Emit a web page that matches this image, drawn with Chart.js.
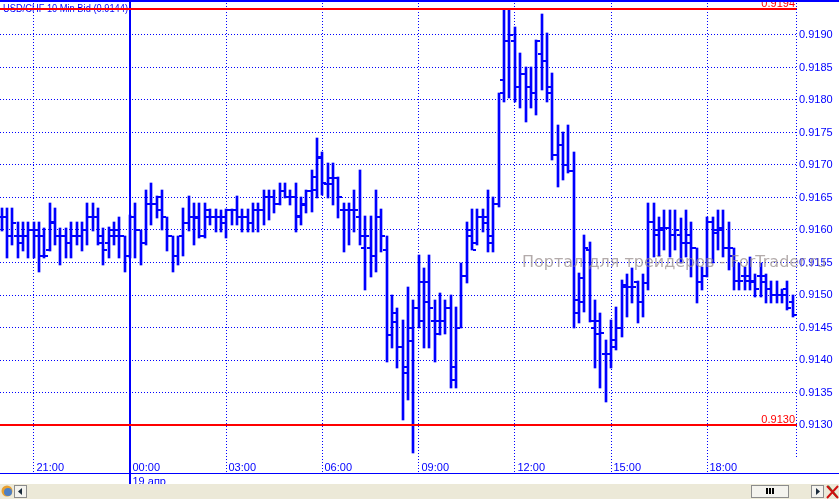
<!DOCTYPE html>
<html><head><meta charset="utf-8">
<script src="https://cdn.jsdelivr.net/npm/chart.js@4"></script>
<style>html,body{margin:0;padding:0;background:#fff;overflow:hidden}#wrap{width:839px;height:499px;position:relative}</style>
</head><body><div id="wrap"><canvas id="c" width="839" height="499"></canvas></div>
<script>
// ---- data (USD/CHF, 10-minute bars, first bar 20:00) ----
const chartTitle = 'USD/CHF 10 Min Bid (0.9144)';
const dateLabel = '19 апр';
const watermark = 'Портал для трейдеров - ForTrader.ru';
const open = [
0.9162,0.9162,0.9159,0.9159,0.9159,0.9159,0.9160,0.9160,0.9159,0.9157,
0.9161,0.9159,0.9159,0.9158,0.9159,0.9159,0.9160,0.9162,0.9162,0.9158,
0.9158,0.9159,0.9160,0.9159,0.9156,0.9162,0.9160,0.9158,0.9164,0.9164,
0.9165,0.9162,0.9159,0.9156,0.9159,0.9161,0.9162,0.9162,0.9159,0.9162,
0.9162,0.9162,0.9162,0.9163,0.9163,0.9162,0.9162,0.9161,0.9163,0.9163,
0.9165,0.9165,0.9164,0.9166,0.9165,0.9165,0.9162,0.9164,0.9166,0.91662,
0.9171,0.9167,0.9167,0.9168,0.9163,0.9163,0.9163,0.9162,0.91572,0.91572,
0.9156,0.9162,0.9157,0.91438,0.91472,0.9142,0.9139,0.9145,0.9148,0.9146,
0.9152,0.9146,0.9144,0.9146,0.9148,0.9139,0.9145,0.9153,0.9160,0.9158,
0.9162,0.9162,0.9159,0.9164,0.9183,0.9189,0.9189,0.9182,0.9184,0.9182,
0.9181,0.9187,0.9186,0.9182,0.91715,0.9173,0.9170,0.9169,0.91492,0.9149,
0.9157,0.9145,0.9146,0.9141,0.9141,0.9142,0.9145,0.91512,0.91512,0.9152,
0.9149,0.91518,0.91612,0.9160,0.91603,0.91603,0.91592,0.91592,0.9158,0.9158,
0.91572,0.9152,0.9153,0.91612,0.9160,0.9160,0.91572,0.91572,0.91522,0.9153,
0.91522,0.9152,0.9153,0.9152,0.9151,0.9150,0.9150,0.9150,0.9149];
const high = [
0.91634,0.91634,0.91634,0.91613,0.91613,0.91613,0.91613,0.91613,0.91603,0.91641,
0.91634,0.91603,0.91603,0.91613,0.91613,0.91613,0.91641,0.91641,0.91634,0.91603,
0.91605,0.91613,0.9162,0.9159,0.91623,0.91641,0.9160,0.91662,0.91672,0.91652,
0.91662,0.9162,0.9159,0.9159,0.91634,0.91652,0.91642,0.91642,0.91642,0.91632,
0.91632,0.9163,0.91632,0.91632,0.91652,0.91632,0.91632,0.91642,0.91642,0.91662,
0.91662,0.91662,0.91672,0.91672,0.91662,0.91672,0.9165,0.91662,0.91692,0.91742,
0.9172,0.91703,0.91703,0.91682,0.91642,0.91642,0.91662,0.91692,0.91622,0.91622,
0.91662,0.91632,0.9159,0.9150,0.9148,0.91462,0.91512,0.91492,0.91562,0.91542,
0.91562,0.91492,0.91503,0.91492,0.9150,0.91482,0.9155,0.91612,0.91632,0.91632,
0.91632,0.91662,0.91651,0.91811,0.91938,0.91938,0.91912,0.91872,0.91851,0.91851,
0.91892,0.91932,0.91903,0.91842,0.91762,0.91751,0.91762,0.9172,0.91534,0.91592,
0.91582,0.91492,0.91472,0.91431,0.91462,0.91482,0.91523,0.91532,0.91542,0.91522,
0.91532,0.91642,0.91642,0.9162,0.9163,0.9163,0.9163,0.91618,0.9163,0.91612,
0.91572,0.91543,0.9162,0.9162,0.9163,0.9163,0.91612,0.91572,0.9155,0.91543,
0.91558,0.91532,0.9155,0.91532,0.91522,0.91522,0.9151,0.91522,0.9150];
const low = [
0.91598,0.91557,0.91577,0.91557,0.91567,0.91557,0.91557,0.91536,0.91557,0.91567,
0.91577,0.91546,0.91557,0.91557,0.91577,0.91567,0.91577,0.91598,0.91577,0.91546,
0.91557,0.91577,0.91557,0.91536,0.91557,0.91557,0.91546,0.91577,0.91608,0.91618,
0.9160,0.91567,0.91536,0.91546,0.9156,0.91598,0.91577,0.91588,0.91588,0.91608,
0.91597,0.91597,0.91588,0.91608,0.91608,0.91597,0.91597,0.91597,0.91597,0.91608,
0.91615,0.91626,0.91639,0.91649,0.91639,0.91597,0.91608,0.91626,0.91628,0.91649,
0.91654,0.91649,0.91638,0.91618,0.91566,0.91577,0.91597,0.91577,0.91508,0.91528,
0.91535,0.91566,0.91397,0.91418,0.91388,0.91308,0.91338,0.91257,0.91449,0.91418,
0.91418,0.91397,0.91438,0.9144,0.91357,0.91357,0.91449,0.91518,0.91569,0.91577,
0.91597,0.91566,0.91566,0.91635,0.91797,0.91803,0.91797,0.91788,0.91766,0.91788,
0.91777,0.91815,0.91797,0.91708,0.91666,0.91677,0.91688,0.91449,0.91457,0.91474,
0.91458,0.91388,0.91357,0.91335,0.91388,0.91415,0.91435,0.91466,0.91488,0.91457,
0.91466,0.91508,0.91558,0.9156,0.9157,0.91558,0.9157,0.91549,0.91558,0.91528,
0.91488,0.91508,0.91528,0.91549,0.9157,0.91558,0.91538,0.91508,0.91508,0.91508,
0.91508,0.91497,0.91497,0.91488,0.91488,0.91488,0.91488,0.91477,0.91466];
const close = [
0.9162,0.9159,0.9161,0.9158,0.9159,0.9160,0.9159,0.9156,0.9156,0.91613,
0.9159,0.9159,0.9158,0.9159,0.9159,0.9160,0.9162,0.9162,0.9159,0.9157,
0.9160,0.9159,0.9159,0.9156,0.9162,0.9160,0.9158,0.9164,0.9164,0.9163,
0.9162,0.9159,0.9156,0.9159,0.9161,0.9162,0.91618,0.9159,0.9163,0.9162,
0.9162,0.9161,0.9163,0.9163,0.9162,0.9162,0.9161,0.9163,0.9163,0.9165,
0.9165,0.9164,0.9166,0.9165,0.9165,0.91622,0.91638,0.9166,0.91682,0.91712,
0.91672,0.9168,0.9168,0.9165,0.9163,0.9163,0.9163,0.91591,0.9159,0.9156,
0.9162,0.9159,0.91438,0.91458,0.9142,0.9138,0.9143,0.9148,0.9152,0.9149,
0.9148,0.9146,0.9146,0.9148,0.9137,0.9145,0.9153,0.9159,0.9157,0.9162,
0.9161,0.9158,0.9164,0.9181,0.9189,0.9190,0.9182,0.9184,0.9182,0.9181,
0.9189,0.9186,0.9181,0.91715,0.9173,0.9170,0.9169,0.91472,0.91526,0.91572,
0.9146,0.9144,0.91442,0.9141,0.91431,0.91449,0.91515,0.91512,0.91512,0.9149,
0.91518,0.91612,0.91592,0.9160,0.91603,0.91592,0.9160,0.9158,0.91592,0.91572,
0.9152,0.9153,0.91612,0.91595,0.91603,0.91572,0.9156,0.91522,0.91522,0.9153,
0.91522,0.9151,0.9153,0.9151,0.9150,0.9150,0.9151,0.9148,0.9147];
const timeTickBars = [6, 24, 42, 60, 78, 96, 114, 132];
const timeTickLabels = ['21:00','00:00','03:00','06:00','09:00','12:00','15:00','18:00'];
const dayStartBar = 24;
const priceTicks = [0.9130,0.9135,0.9140,0.9145,0.9150,0.9155,0.9160,0.9165,0.9170,0.9175,0.9180,0.9185,0.9190];
const levelLines = [0.9194, 0.9130];

// ---- view window ----
const X_MIN = -0.318, X_MAX = 148.79;
const Y_MAX = 0.91953846, Y_MIN = 0.91226154;
const BLUE = '#0000ff';

function tickImg(side){
  const c = document.createElement('canvas'); c.width = 8; c.height = 2;
  const g = c.getContext('2d'); g.fillStyle = BLUE;
  if (side === 'open') g.fillRect(0,0,3,2); else g.fillRect(5,0,3,2);
  return c;
}
const ranges = high.map((h,i)=>({x:i, y:[low[i], h]}));
const opens = open.map((v,i)=>({x:i, y:v}));
const closes = close.map((v,i)=>({x:i, y:v}));

// snap library-computed element positions to whole pixels (GDI-like crisp bars)
const snap = {
  id:'snap',
  afterDatasetsUpdate(chart){
    chart.data.datasets.forEach((ds,i)=>{
      chart.getDatasetMeta(i).data.forEach(el=>{
        el.x = Math.round(el.x);
        el.y = Math.round(el.y);
        if (el.base !== undefined) el.base = Math.round(el.base);
      });
    });
  }
};

const decor = {
  id:'decor',
  beforeDraw(chart){
    const c = chart.ctx; c.save(); c.fillStyle='#fff'; c.fillRect(0,0,chart.width,chart.height); c.restore();
  },
  afterDraw(chart){
    const {ctx, scales:{x, y}, chartArea:a} = chart;
    ctx.save();
    // title (condensed to the reference width)
    ctx.fillStyle = BLUE; ctx.textBaseline='alphabetic'; ctx.textAlign='left';
    ctx.font = '11px Arial, "Liberation Sans", sans-serif';
    const tw = ctx.measureText(chartTitle).width;
    ctx.save(); ctx.translate(3, 12); ctx.scale(125/tw, 1); ctx.fillText(chartTitle, 0, 0); ctx.restore();
    // red level lines
    levelLines.forEach(v=>{
      const py = Math.round(y.getPixelForValue(v));
      ctx.fillStyle = '#ff0000';
      ctx.fillRect(0, py-1, a.right, 2);
      ctx.font = '11px Arial, "Liberation Sans", sans-serif';
      ctx.textAlign='right';
      ctx.fillText(v.toFixed(4), a.right-2, py-2);
    });
    // top blue border
    ctx.fillStyle = BLUE; ctx.fillRect(0,0,chart.width,2);
    // right dotted axis line
    ctx.strokeStyle = BLUE; ctx.lineWidth=1; ctx.setLineDash([1,2]);
    ctx.beginPath(); ctx.moveTo(a.right-0.5, 0); ctx.lineTo(a.right-0.5, 459); ctx.stroke();
    ctx.setLineDash([]);
    // bottom axis line
    ctx.fillRect(0, 473, chart.width, 1);
    // day separator extension
    const dx = Math.round(x.getPixelForValue(dayStartBar));
    ctx.fillRect(dx-1, 473, 2, 11);
    // time labels
    ctx.font = '11px Arial, "Liberation Sans", sans-serif'; ctx.textAlign='left'; ctx.fillStyle=BLUE;
    timeTickBars.forEach((b,i)=>{
      ctx.fillText(timeTickLabels[i], Math.round(x.getPixelForValue(b))+2.5, 471);
    });
    ctx.fillText(dateLabel, dx+2.5, 484.5);
    // watermark
    ctx.font = '16px "DejaVu Sans", Verdana, sans-serif';
    ctx.fillStyle = 'rgba(150,138,138,0.72)';
    ctx.fillText(watermark, 522, 267);
    // scrollbar strip
    ctx.fillStyle = '#ece9d8'; ctx.fillRect(0, 484, chart.width, 15);
    // left icon
    ctx.fillStyle = '#e8a030'; ctx.beginPath(); ctx.arc(7,491,5.5,0,Math.PI*2); ctx.fill();
    ctx.fillStyle = '#4d7fc4'; ctx.beginPath(); ctx.arc(8,492,4,0,Math.PI*2); ctx.fill();
    // buttons
    function btn(bx,by,bw,bh){
      ctx.fillStyle='#f4f3ee'; ctx.fillRect(bx,by,bw,bh);
      ctx.strokeStyle='#8c8c8c'; ctx.lineWidth=1; ctx.strokeRect(bx+0.5,by+0.5,bw-1,bh-1);
    }
    btn(14,485,13,13);
    ctx.fillStyle='#1a2a3a'; ctx.beginPath(); ctx.moveTo(18,491.5); ctx.lineTo(22,488); ctx.lineTo(22,495); ctx.closePath(); ctx.fill();
    btn(751,485,38,13);
    ctx.fillStyle='#000'; ctx.fillRect(766,488,2,6); ctx.fillRect(769,488,2,6); ctx.fillRect(772,488,2,6);
    btn(811,485,13,13);
    ctx.fillStyle='#1a2a3a'; ctx.beginPath(); ctx.moveTo(820,491.5); ctx.lineTo(816,488); ctx.lineTo(816,495); ctx.closePath(); ctx.fill();
    ctx.strokeStyle='#3a8a3a'; ctx.lineWidth=2; ctx.beginPath(); ctx.moveTo(828,486); ctx.lineTo(837,497); ctx.stroke();
    ctx.strokeStyle='#d01010'; ctx.beginPath(); ctx.moveTo(827,486); ctx.lineTo(838,498); ctx.moveTo(838,486); ctx.lineTo(827,498); ctx.stroke();
    ctx.restore();
  }
};

Chart.defaults.font.family = 'Arial, "Liberation Sans", sans-serif';
Chart.defaults.font.size = 11;

new Chart(document.getElementById('c'), {
  type:'bar',
  data:{datasets:[
    {type:'bar', data:ranges, backgroundColor:BLUE, borderWidth:0, barThickness:2, order:1},
    {type:'scatter', data:opens, pointStyle:tickImg('open'), pointRadius:4, order:0},
    {type:'scatter', data:closes, pointStyle:tickImg('close'), pointRadius:4, order:0}
  ]},
  options:{
    responsive:false, animation:false, devicePixelRatio:1, events:[],
    layout:{padding:0, autoPadding:false},
    plugins:{legend:{display:false}, tooltip:{enabled:false}},
    scales:{
      x:{type:'linear', min:X_MIN, max:X_MAX, offset:false, position:'bottom',
        afterBuildTicks:s=>{ s.ticks = timeTickBars.map(v=>({value:v})); },
        afterFit:s=>{ s.height = 26; s.paddingLeft=0; s.paddingRight=0; s.paddingTop=0; s.paddingBottom=0; },
        ticks:{display:false},
        grid:{color:BLUE, drawTicks:false, offset:false,
              lineWidth:(c)=> (c.tick && c.tick.value===dayStartBar) ? 2 : 1},
        border:{display:false, dash:(c)=> (c.tick && c.tick.value===dayStartBar) ? [] : [1,2]}
      },
      y:{type:'linear', position:'right', min:Y_MIN, max:Y_MAX,
        afterBuildTicks:s=>{ s.ticks = priceTicks.map(v=>({value:v})); },
        afterFit:s=>{ s.width = 42; s.paddingTop=0; s.paddingBottom=0; s.paddingLeft=0; s.paddingRight=0; },
        ticks:{color:BLUE, padding:2, autoSkip:false, callback:(v)=>Number(v).toFixed(4)},
        grid:{color:BLUE, lineWidth:1, drawTicks:false},
        border:{display:false, dash:[1,2]}
      }
    }
  },
  plugins:[snap, decor]
});
</script></body></html>
